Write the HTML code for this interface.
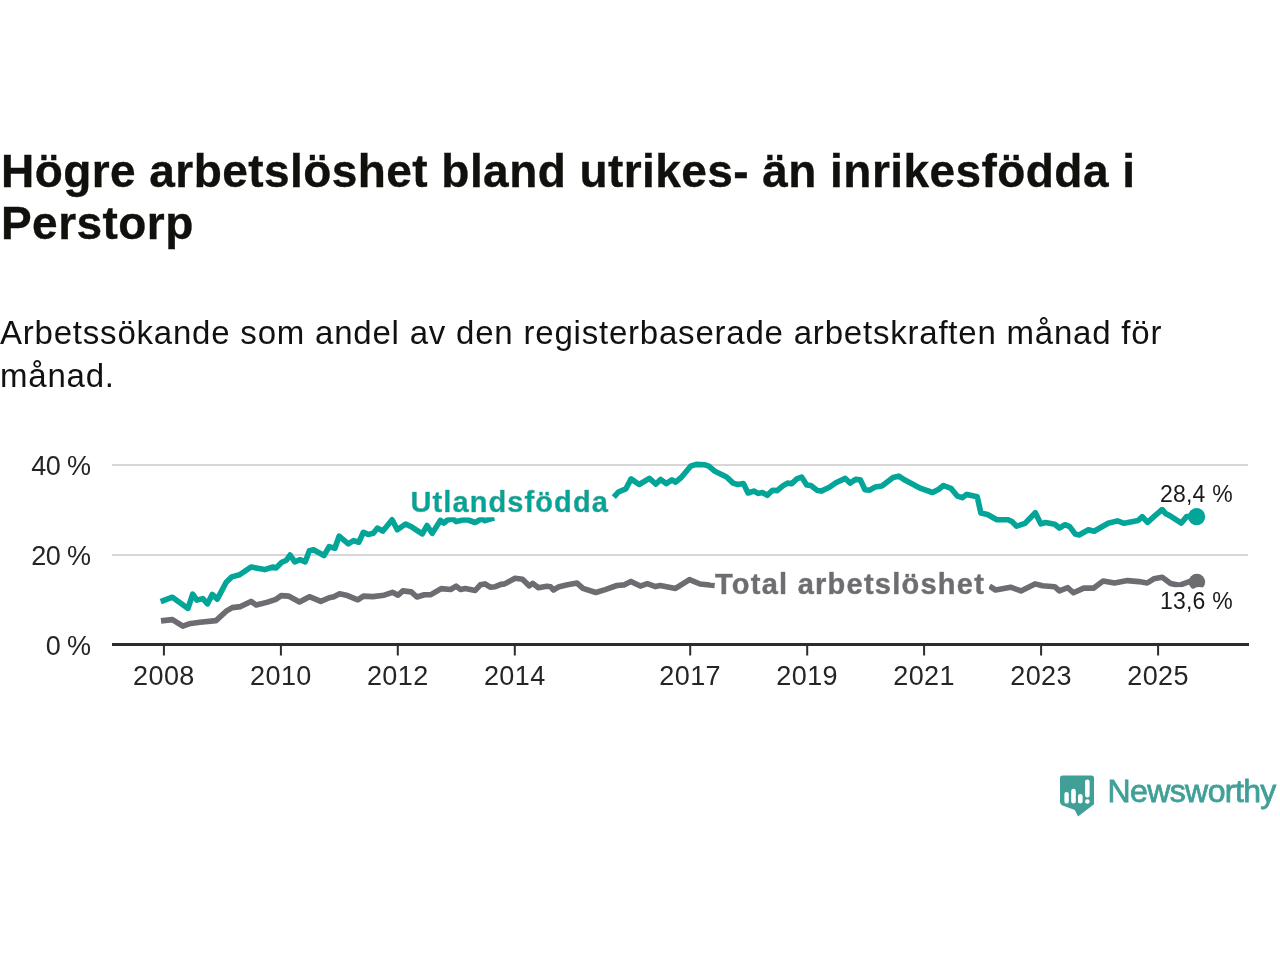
<!DOCTYPE html>
<html lang="sv"><head><meta charset="utf-8"><title>Högre arbetslöshet bland utrikes- än inrikesfödda i Perstorp</title>
<style>
html,body{margin:0;padding:0;background:#fff;}
body{width:1280px;height:960px;position:relative;overflow:hidden;font-family:"Liberation Sans",Arial,sans-serif;}
h1{position:absolute;left:1px;top:145.3px;margin:0;font-size:46px;line-height:52px;font-weight:700;color:#10100c;-webkit-text-stroke:0.35px #10100c;letter-spacing:0.44px;white-space:nowrap;}
p.sub{position:absolute;left:0;top:312.0px;margin:0;font-size:33px;line-height:42.6px;font-weight:400;color:#111;letter-spacing:0.79px;white-space:nowrap;}
svg{position:absolute;left:0;top:0;}
.ax{font-family:"Liberation Sans",Arial,sans-serif;font-size:27px;fill:#252525;}
.lbl{font-family:"Liberation Sans",Arial,sans-serif;font-weight:700;font-size:29px;stroke-width:0.6px;stroke-linejoin:round;filter:url(#halo);}
.val{font-family:"Liberation Sans",Arial,sans-serif;font-size:23px;fill:#1a1a1a;paint-order:stroke;stroke:#fff;stroke-width:10px;stroke-linejoin:round;}
</style></head><body>
<h1>Högre arbetslöshet bland utrikes- än inrikesfödda i<br>Perstorp</h1>
<p class="sub">Arbetssökande som andel av den registerbaserade arbetskraften månad för<br>månad.</p>
<svg width="1280" height="960" viewBox="0 0 1280 960">
  <defs>
    <filter id="halo" x="-5%" y="-40%" width="110%" height="180%">
      <feMorphology in="SourceAlpha" operator="dilate" radius="5" result="d"/>
      <feGaussianBlur in="d" stdDeviation="0.6" result="db"/>
      <feFlood flood-color="#fff"/>
      <feComposite in2="db" operator="in" result="w"/>
      <feMerge><feMergeNode in="w"/><feMergeNode in="SourceGraphic"/></feMerge>
    </filter>
  </defs>
  <g stroke="#d7d7d7" stroke-width="2">
    <line x1="112" y1="465" x2="1248" y2="465"/>
    <line x1="112" y1="555" x2="1248" y2="555"/>
  </g>
  <g class="ax" text-anchor="end">
    <text x="90.5" y="474.8" letter-spacing="-0.6">40 %</text>
    <text x="90.5" y="564.5" letter-spacing="-0.6">20 %</text>
    <text x="90.5" y="654.8" letter-spacing="-0.6">0 %</text>
  </g>
  <line x1="112" y1="644.5" x2="1249" y2="644.5" stroke="#2c2c2c" stroke-width="3"/>
  <g stroke="#2c2c2c" stroke-width="2">
    <line x1="163.9" y1="645" x2="163.9" y2="655.5"/>
    <line x1="280.9" y1="645" x2="280.9" y2="655.5"/>
    <line x1="397.8" y1="645" x2="397.8" y2="655.5"/>
    <line x1="514.8" y1="645" x2="514.8" y2="655.5"/>
    <line x1="690.2" y1="645" x2="690.2" y2="655.5"/>
    <line x1="807.2" y1="645" x2="807.2" y2="655.5"/>
    <line x1="924.1" y1="645" x2="924.1" y2="655.5"/>
    <line x1="1041.1" y1="645" x2="1041.1" y2="655.5"/>
    <line x1="1158.1" y1="645" x2="1158.1" y2="655.5"/>
  </g>
  <g class="ax" text-anchor="middle">
    <text x="163.9" y="685" letter-spacing="0.4">2008</text>
    <text x="280.9" y="685" letter-spacing="0.4">2010</text>
    <text x="397.8" y="685" letter-spacing="0.4">2012</text>
    <text x="514.8" y="685" letter-spacing="0.4">2014</text>
    <text x="690.2" y="685" letter-spacing="0.4">2017</text>
    <text x="807.2" y="685" letter-spacing="0.4">2019</text>
    <text x="924.1" y="685" letter-spacing="0.4">2021</text>
    <text x="1041.1" y="685" letter-spacing="0.4">2023</text>
    <text x="1158.1" y="685" letter-spacing="0.4">2025</text>
  </g>
  <g fill="none" stroke-width="5.6" stroke-linejoin="round">
    <polyline stroke="#6d6d71" points="161.0,620.9 172.4,619.6 182.8,626.1 189.1,623.8 200.0,622.2 216.0,620.6 226.2,611.2 232.3,607.6 240.6,606.6 251.0,601.4 256.2,605.0 266.7,602.4 276.0,599.3 281.2,595.6 288.5,596.1 299.5,601.9 309.4,596.7 320.8,601.4 329.2,597.7 333.9,596.7 339.6,593.8 347.5,595.6 357.8,599.8 363.4,596.1 372.8,596.6 384.1,595.2 392.5,592.3 398.1,595.2 402.8,590.9 411.2,591.9 416.9,597.0 424.4,594.7 430.9,594.7 441.2,588.6 450.6,589.5 456.2,586.2 460.6,589.5 465.3,588.6 475.2,590.5 480.3,584.8 485.0,583.9 490.2,587.2 495.3,586.7 500.9,584.4 504.7,583.9 515.0,578.3 522.5,579.2 529.1,585.8 532.8,583.4 538.4,587.7 546.9,586.2 550.6,586.7 553.4,590.0 559.1,586.7 567.5,584.8 577.0,583.1 582.9,588.4 595.8,592.5 605.2,589.6 616.9,585.5 623.9,584.9 630.9,581.4 640.3,586.1 647.3,583.7 655.5,586.6 660.2,585.5 675.5,588.4 689.5,579.6 700.1,584.0 714.7,585.5"/>
    <polyline stroke="#6d6d71" points="989.5,586.2 995.6,590.0 1010.6,587.2 1020.9,590.9 1035.0,583.9 1042.5,585.8 1054.7,586.7 1059.4,590.9 1067.8,587.7 1073.4,592.8 1083.8,588.1 1093.8,588.1 1103.1,581.1 1114.4,583.0 1127.5,580.6 1138.8,581.6 1147.2,583.0 1153.8,578.8 1162.2,577.3 1170.6,583.4 1179.1,585.3 1189.4,581.6 1196.9,582.0"/>
    <polyline stroke="#02a597" points="160.7,601.7 172.4,597.2 188.0,608.4 192.7,594.1 196.9,600.1 202.8,598.6 207.5,603.8 212.2,594.4 217.3,599.1 226.2,582.2 231.8,576.9 239.6,574.8 251.0,567.0 264.6,569.6 272.9,567.0 276.0,568.0 281.8,562.3 286.5,560.2 290.1,555.0 294.8,561.8 300.0,559.7 305.2,561.8 309.4,550.8 313.5,549.8 324.0,555.5 329.2,546.7 334.9,548.2 339.1,536.2 348.3,543.8 353.5,540.6 358.8,542.2 363.4,532.3 368.1,534.4 373.3,533.3 377.5,528.1 382.7,531.2 392.1,519.8 397.3,529.7 405.6,524.0 411.9,527.1 422.3,533.9 427.0,525.5 432.2,533.3 440.5,520.3 443.8,523.1 447.5,520.0 453.1,519.1 456.2,521.6 462.5,520.0 468.1,520.0 475.0,522.5 477.5,521.2 481.2,518.8 485.0,520.6 491.2,518.8 494.4,518.1"/>
    <polyline stroke="#02a597" points="613.8,497.2 618.4,492.0 625.9,488.8 631.1,478.9 639.1,484.5 649.4,478.4 655.9,484.1 660.6,479.4 666.2,483.6 671.9,479.8 675.6,482.2 681.2,477.5 690.6,466.2 696.2,464.4 705.0,464.8 708.8,466.2 714.4,470.9 726.6,477.0 733.1,483.1 737.8,484.5 743.4,483.6 748.1,493.0 753.8,491.1 758.4,493.4 762.2,492.5 767.3,495.3 772.5,490.2 777.2,490.6 782.8,485.9 787.5,483.1 791.7,483.6 796.9,478.9 801.6,477.0 806.7,485.0 810.9,485.5 817.5,490.6 821.2,491.1 829.4,487.3 835.9,482.7 845.3,478.4 850.0,483.1 855.6,479.4 860.3,479.8 865.0,489.7 869.7,490.2 875.3,486.9 881.9,485.9 893.1,477.5 898.8,476.1 905.3,480.3 919.4,487.8 932.5,492.5 938.8,489.2 943.4,485.5 950.9,488.3 957.5,496.2 962.2,497.7 966.9,494.4 977.2,496.7 980.9,513.1 987.5,514.5 996.9,519.7 1008.1,519.7 1011.9,521.6 1016.6,526.2 1025.0,523.4 1035.3,512.7 1040.9,523.9 1045.6,522.5 1054.7,524.2 1059.4,528.0 1065.0,524.7 1069.7,526.6 1075.3,534.1 1079.1,535.0 1088.4,529.8 1094.1,531.2 1108.1,523.3 1117.5,520.9 1124.1,523.3 1138.1,520.5 1142.3,516.7 1147.5,522.3 1155.9,514.8 1162.2,509.5 1165.9,513.8 1169.7,515.6 1181.4,523.1 1186.6,516.6 1196.6,516.6"/>
  </g>
  <circle cx="1196.6" cy="516.6" r="8.6" fill="#02a597"/>
  <circle cx="1196.9" cy="582.0" r="8.3" fill="#6d6d71"/>
  <text class="lbl" x="410.5" y="511.6" fill="#02a597" stroke="#02a597" letter-spacing="1.1">Utlandsfödda</text>
  <text class="lbl" x="715" y="594.2" fill="#6d6d71" stroke="#6d6d71" letter-spacing="1.25">Total arbetslöshet</text>
  <text class="val" x="1160" y="502" letter-spacing="0.2">28,4 %</text>
  <text class="val" x="1160" y="609.4" letter-spacing="0.2">13,6 %</text>
  <g>
    <path fill="#40a098" d="M1062.5 775.5 H1091.5 Q1094 775.5 1094 778 V804.3 L1078 816.4 L1074.8 810 L1062.5 805.5 Q1060 804.7 1060 802 V778 Q1060 775.5 1062.5 775.5 Z"/>
    <g fill="#fff">
      <rect x="1064.4" y="791.9" width="4.4" height="11.7" rx="2.2"/>
      <rect x="1071.2" y="788.8" width="4.6" height="14.8" rx="2.3"/>
      <rect x="1078" y="794" width="4.6" height="9.6" rx="2.3"/>
      <rect x="1085.1" y="779.6" width="4.5" height="18" rx="2.25"/>
      <circle cx="1087.35" cy="801.4" r="2.25"/>
    </g>
    <text x="1107.5" y="802" font-family="Liberation Sans, Arial, sans-serif" font-size="32" fill="#40a098" stroke="#40a098" stroke-width="0.8" letter-spacing="-0.6">Newsworthy</text>
  </g>
</svg>
</body></html>
